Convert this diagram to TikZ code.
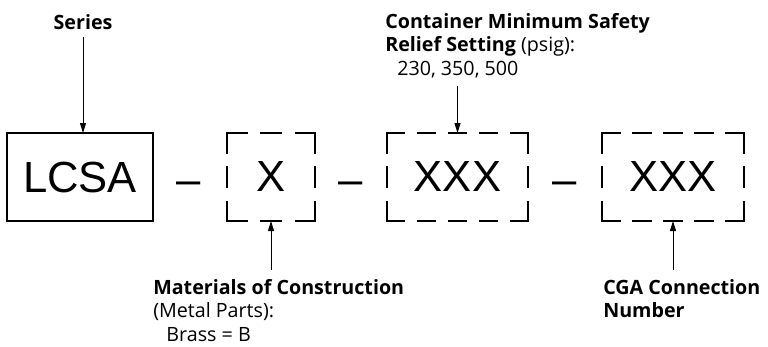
\documentclass[tikz,border=0pt]{standalone}
\usepackage{fontspec}
\setmainfont{Open Sans}
\newfontfamily\helv{Liberation Sans}
\usepackage{tikz}
\usetikzlibrary{arrows.meta, positioning, calc}

\begin{document}
\begin{tikzpicture}[
  code/.style={inner sep=0pt, outer sep=0pt, minimum height=2.2cm, font=\helv\fontsize{31}{36}\selectfont},
  solidbox/.style={code, draw, line width=1.4pt},
  sep/.style={anchor=base, inner sep=0pt, font=\helv\fontsize{31}{36}\selectfont},
  tag/.style={inner sep=0pt, align=left, font=\fontsize{14}{16.8}\selectfont},
  edge/.style={-{Triangle[length=0.25cm, width=0.15cm]}, line width=0.7pt},
  side/.style={line width=1.4pt, line cap=rect},
  shortdash/.style={side, dash pattern=on 0.489cm off 0.367cm},
  longdash/.style={side, dash pattern=on 0.4425cm off 0.3319cm}
]
  \useasboundingbox (0,0) rectangle (19.2,-8.65);

  % Part number fields
  \node[solidbox, minimum width=3.65cm] (lcsa) at (2.0,-4.425) {LCSA};
  \node[code, minimum width=2.2cm] (matbox) at (6.775,-4.425) {X};
  \node[code, minimum width=3.54cm] (reliefbox) at (11.4375,-4.425) {XXX};
  \node[code, minimum width=3.54cm] (cgabox) at (16.825,-4.425) {XXX};

  % Separators
  \node[sep] (d1) at (4.725,-4.85) {–};
  \node[sep] (d2) at (8.775,-4.85) {–};
  \node[sep] (d3) at (14.11,-4.85) {–};

  % Open (dashed) fields
  \draw[shortdash] (matbox.north west) -- (matbox.south west);
  \draw[shortdash] (matbox.north east) -- (matbox.south east);
  \draw[shortdash] (matbox.north west) -- (matbox.north east);
  \draw[shortdash] (matbox.south west) -- (matbox.south east);

  \draw[shortdash] (reliefbox.north west) -- (reliefbox.south west);
  \draw[shortdash] (reliefbox.north east) -- (reliefbox.south east);
  \draw[longdash] (reliefbox.north west) -- (reliefbox.north east);
  \draw[longdash] (reliefbox.south west) -- (reliefbox.south east);

  \draw[shortdash] (cgabox.north west) -- (cgabox.south west);
  \draw[shortdash] (cgabox.north east) -- (cgabox.south east);
  \draw[longdash] (cgabox.north west) -- (cgabox.north east);
  \draw[longdash] (cgabox.south west) -- (cgabox.south east);

  % Labels
  \node[tag, anchor=base] (series) at (2.075,-0.725) {\textbf{Series}};
  \node[tag, anchor=north west] (relief) at (9.625,-0.325) {\textbf{Container Minimum Safety}\\
    \textbf{Relief Setting} (psig):\\
    \hspace*{0.3cm}230, 350, 500};
  \node[tag, anchor=north west] (material) at (3.825,-6.975) {\textbf{Materials of Construction}\\
    (Metal Parts):\\
    \hspace*{0.33cm}Brass = B};
  \node[tag, anchor=north west] (cga) at (15.075,-6.975) {\textbf{CGA Connection}\\
    \textbf{Number}};

  % Pointers
  \draw[edge, shorten <=0.2cm] (series.south) -- (series.south |- lcsa.north);
  \draw[edge, shorten <=0.2cm] (relief.south -| reliefbox.north) -- (reliefbox.north);
  \draw[edge, shorten <=0.22cm] (material.north -| matbox.south) -- (matbox.south);
  \draw[edge, shorten <=0.22cm] (cga.north -| cgabox.south) -- (cgabox.south);
\end{tikzpicture}
\end{document}
